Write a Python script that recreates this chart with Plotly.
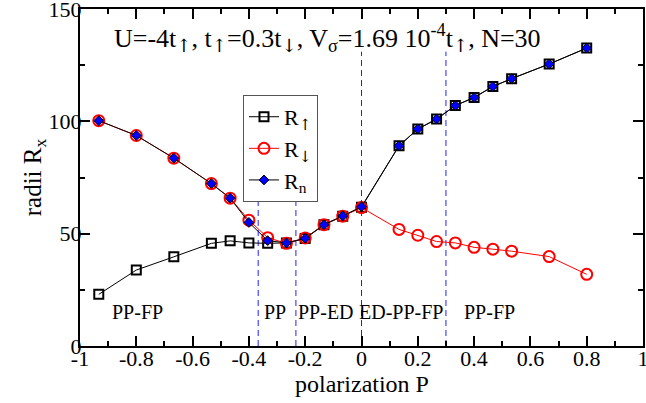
import plotly.graph_objects as go

# polarization values (multiples of 1/15, N=30)
P = [-14/15, -12/15, -10/15, -8/15, -7/15, -6/15, -5/15, -4/15, -3/15, -2/15, -1/15, 0.0,
     2/15, 3/15, 4/15, 5/15, 6/15, 7/15, 8/15, 10/15, 12/15]

R_up = [23.0, 33.8, 39.7, 45.7, 46.8, 45.9, 45.7, 45.9, 47.8, 54.0, 57.8, 61.8,
        89.1, 96.6, 101.0, 107.0, 110.6, 115.5, 119.0, 125.5, 132.6]
R_down = [100.3, 93.7, 83.6, 72.3, 65.8, 56.0, 48.2, 45.7, 48.1, 54.0, 57.8, 61.6,
          51.9, 49.3, 46.5, 45.9, 43.9, 43.1, 42.2, 39.8, 31.9]
R_n = [100.3, 93.7, 83.6, 72.3, 65.8, 55.0, 46.9, 45.9, 47.9, 54.0, 57.9, 62.0,
       89.1, 96.6, 101.0, 107.0, 110.6, 115.5, 119.0, 125.5, 132.6]

x_tickvals = [-1, -0.8, -0.6, -0.4, -0.2, 0, 0.2, 0.4, 0.6, 0.8, 1]
x_ticktext = ["-1", "-0.8", "-0.6", "-0.4", "-0.2", "0", "0.2", "0.4", "0.6", "0.8", "1"]
y_tickvals = [0, 50, 100, 150]
y_ticktext = ["0", "50", "100", "150"]

# phase boundaries (P) and the height reached by each dashed line
boundaries = [-0.367, -0.233, 0.0, 0.3]
boundary_tops = [70, 70, 131, 131]

region_names = ["PP-FP", "PP", "PP-ED", "ED-PP-FP", "PP-FP"]
region_x = [-0.794, -0.306, -0.125, 0.140, 0.453]
region_y = 15

FONT = "Liberation Serif"
ARROW_FONT = "DejaVu Serif"
BLUE = "#2020ff"


def arrow(ch):
    return '<span style="font-family:%s">%s</span>' % (ARROW_FONT, ch)


UP = arrow("↑")
DOWN = arrow("↓")

title_text = ("U=-4t<sub>%s</sub>, t<sub>%s</sub>=0.3t<sub>%s</sub>, "
              "V<sub>σ</sub>=1.69 10<sup>-4</sup>t<sub>%s</sub>, N=30") % (UP, UP, DOWN, UP)

fig = go.Figure()
fig.add_trace(go.Scatter(
    x=P, y=R_up, mode="lines+markers", name="R<sub>%s</sub>" % UP,
    line=dict(color="black", width=1),
    marker=dict(symbol="square-open", size=9, color="black", line=dict(width=2, color="black")),
))
fig.add_trace(go.Scatter(
    x=P, y=R_down, mode="lines+markers", name="R<sub>%s</sub>" % DOWN,
    line=dict(color="#ff0000", width=1),
    marker=dict(symbol="circle-open", size=11, color="#ff0000", line=dict(width=2, color="#ff0000")),
))
fig.add_trace(go.Scatter(
    x=P, y=R_n, mode="lines+markers", name="R<sub>n</sub>",
    line=dict(color="black", width=1),
    marker=dict(symbol="diamond", size=7.5, color="#0000ff", line=dict(width=1, color="black")),
))

for b, top in zip(boundaries, boundary_tops):
    fig.add_shape(type="line", x0=b, x1=b, y0=0, y1=top, xref="x", yref="y",
                  line=dict(color=BLUE, width=1, dash="6px,4px"), layer="below")

for name, xr in zip(region_names, region_x):
    fig.add_annotation(x=xr, y=region_y, text=name, showarrow=False,
                       font=dict(family=FONT, size=20, color="black"))

fig.add_annotation(x=-0.887, y=137, text=title_text, showarrow=False, xanchor="left",
                   font=dict(family=FONT, size=26, color="black"))

# x-axis title placed as an annotation
fig.add_annotation(x=0.5, y=-0.112, xref="paper", yref="paper", text="polarization P",
                   showarrow=False, xanchor="center", yanchor="middle",
                   font=dict(family=FONT, size=24, color="black"))

axis_common = dict(
    showline=True, linecolor="black", linewidth=2, mirror="ticks",
    ticks="inside", ticklen=10, tickwidth=1.5, tickcolor="black",
    showgrid=False, zeroline=False, automargin=False,
    ticklabelstandoff=-8, ticklabeloverflow="allow",
    tickfont=dict(family=FONT, size=22, color="black"),
)

fig.update_xaxes(range=[-1, 1], tickmode="array", tickvals=x_tickvals, ticktext=x_ticktext,
                 minor=dict(dtick=0.1, tick0=-1, ticks="inside", ticklen=5, tickcolor="black", tickwidth=1.5),
                 **axis_common)
fig.update_yaxes(range=[0, 150], tickmode="array", tickvals=y_tickvals, ticktext=y_ticktext,
                 minor=dict(dtick=25, tick0=0, ticks="inside", ticklen=5, tickcolor="black", tickwidth=1.5),
                 title=dict(text="radii R<sub>x</sub>", font=dict(family=FONT, size=25, color="black"), standoff=0),
                 **axis_common)

fig.update_layout(
    width=646, height=403,
    margin=dict(l=80, r=3, t=9, b=57),
    paper_bgcolor="white", plot_bgcolor="white",
    showlegend=True,
    legend=dict(x=0.2895, y=0.745, xanchor="left", yanchor="top",
                bgcolor="white", bordercolor="#555555", borderwidth=1,
                font=dict(family=FONT, size=22, color="black"),
                itemwidth=30, tracegroupgap=0),
    font=dict(family=FONT),
)

fig.write_html("out.html", config={"displayModeBar": False},
               post_script="document.body.style.margin='0px';document.body.style.overflow='hidden';")
